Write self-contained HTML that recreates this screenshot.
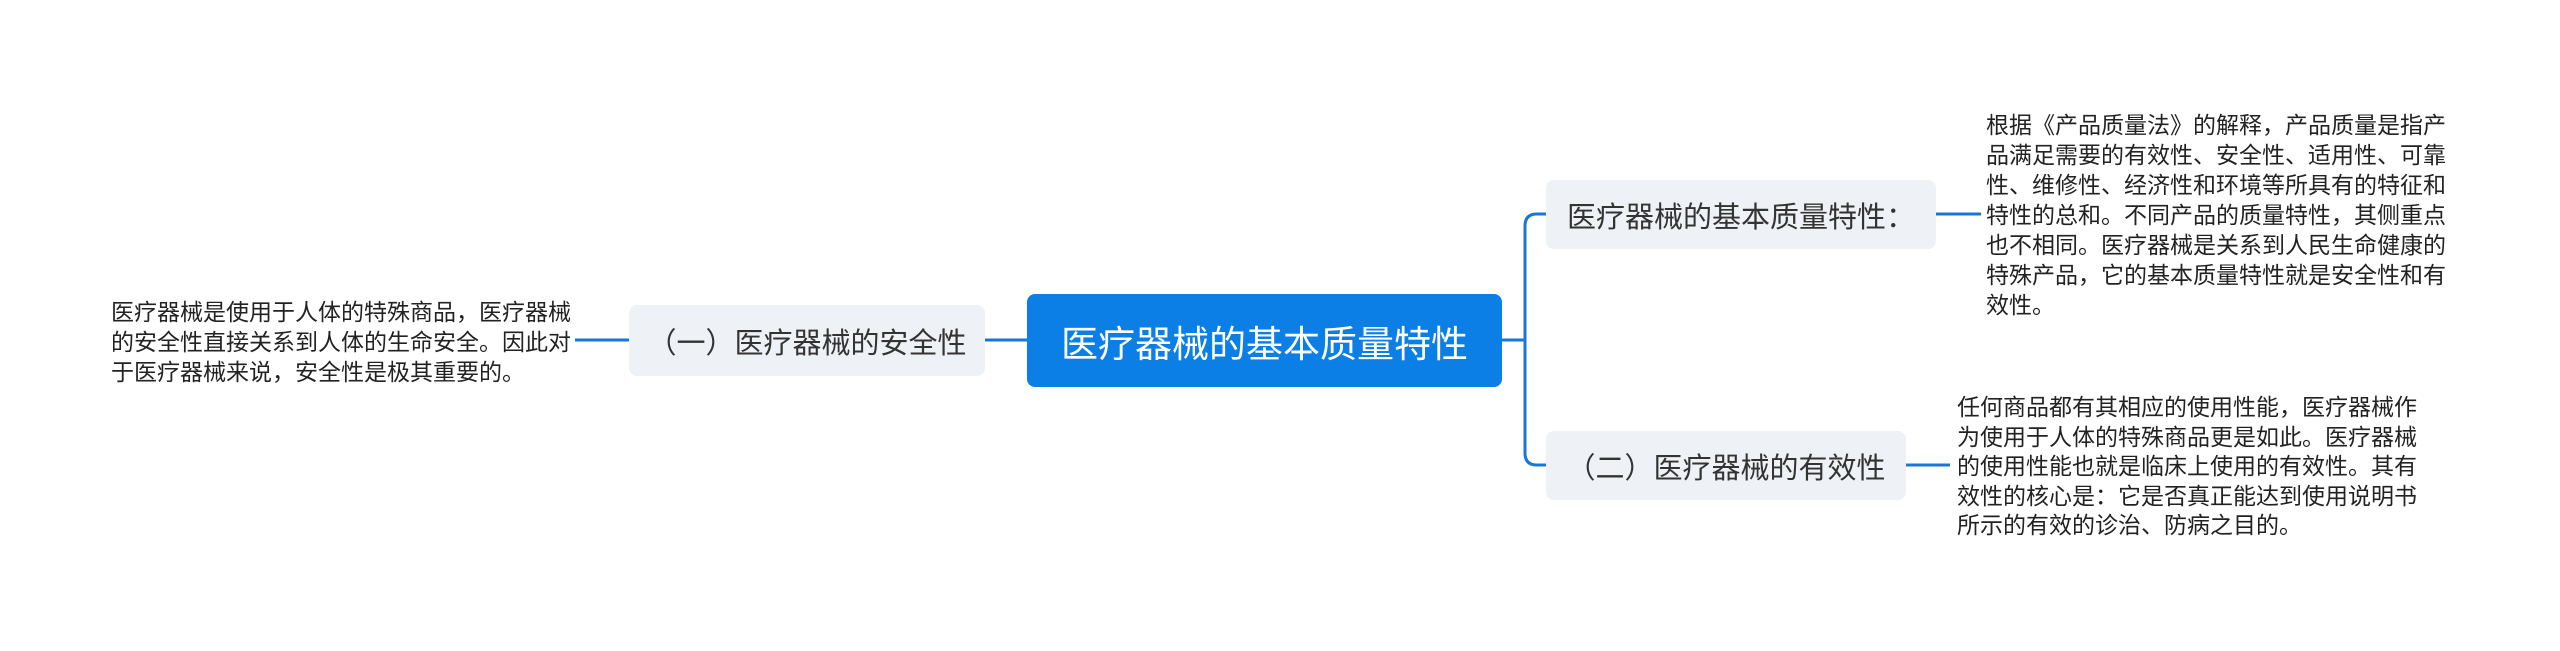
<!DOCTYPE html>
<html><head><meta charset="utf-8"><style>
body{margin:0;width:2560px;height:651px;background:#fff;position:relative;overflow:hidden;font-family:"Liberation Sans","Noto Sans CJK SC",sans-serif;color:#333}
.n{position:absolute;box-sizing:border-box;display:flex;align-items:center;justify-content:center;border-radius:8px;white-space:nowrap}
.t{position:absolute;font-size:23px;line-height:30px;white-space:nowrap;color:#222}
</style></head><body>
<svg width="2560" height="651" style="position:absolute;left:0;top:0">
<g stroke="#1677d9" stroke-width="3" fill="none">
<line x1="575" y1="340" x2="629" y2="340"/>
<line x1="985" y1="340" x2="1027" y2="340"/>
<line x1="1502" y1="340" x2="1525" y2="340"/>
<path d="M1546 214 H1537 Q1525 214 1525 226 V453 Q1525 465 1537 465 H1546"/>
<line x1="1936" y1="214" x2="1981" y2="214"/>
<line x1="1906" y1="465" x2="1950" y2="465"/>
</g></svg>
<div class="n" style="left:1027px;top:294px;width:475px;height:93px;background:#0b7fe6;color:#fff;font-size:37px">医疗器械的基本质量特性</div>
<div class="n" style="left:629px;top:305px;width:356px;height:71px;background:#eef1f5;font-size:29px">（一）医疗器械的安全性</div>
<div class="n" style="left:1546px;top:180px;width:390px;height:69px;background:#eef1f5;font-size:29px">医疗器械的基本质量特性：</div>
<div class="n" style="left:1546px;top:431px;width:360px;height:69px;background:#eef1f5;font-size:29px">（二）医疗器械的有效性</div>
<div class="t" style="left:111px;top:297px">医疗器械是使用于人体的特殊商品，医疗器械<br>的安全性直接关系到人体的生命安全。因此对<br>于医疗器械来说，安全性是极其重要的。</div>
<div class="t" style="left:1986px;top:110px;font-size:23px">根据《产品质量法》的解释，产品质量是指产<br>品满足需要的有效性、安全性、适用性、可靠<br>性、维修性、经济性和环境等所具有的特征和<br>特性的总和。不同产品的质量特性，其侧重点<br>也不相同。医疗器械是关系到人民生命健康的<br>特殊产品，它的基本质量特性就是安全性和有<br>效性。</div>
<div class="t" style="left:1957px;top:393px;font-size:23px;line-height:29.5px">任何商品都有其相应的使用性能，医疗器械作<br>为使用于人体的特殊商品更是如此。医疗器械<br>的使用性能也就是临床上使用的有效性。其有<br>效性的核心是：它是否真正能达到使用说明书<br>所示的有效的诊治、防病之目的。</div>
</body></html>
